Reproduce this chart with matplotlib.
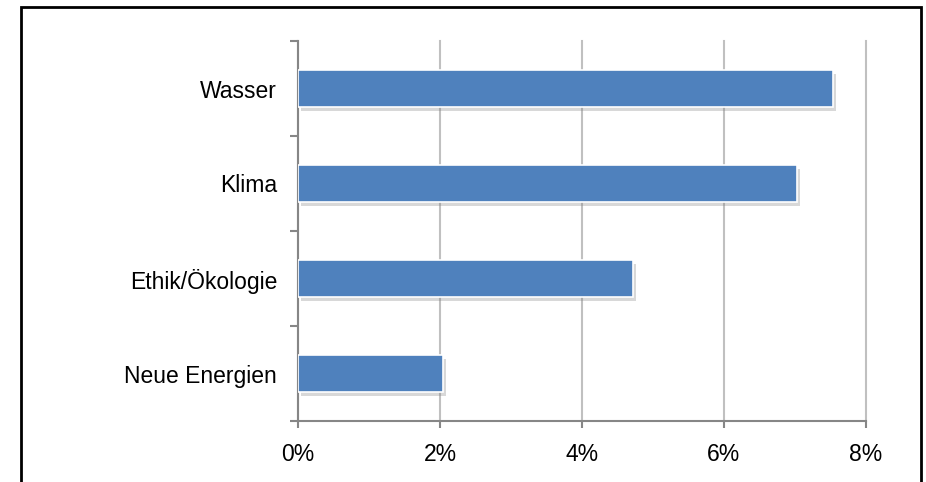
import matplotlib.pyplot as plt
import matplotlib.patheffects as pe
from matplotlib.patches import Rectangle
from matplotlib.ticker import FuncFormatter

plt.rcParams['font.family'] = ['Liberation Sans', 'DejaVu Sans']

# data (bottom to top)
categories = ["Neue Energien", "Ethik/Ökologie", "Klima", "Wasser"]
values = [2.04, 4.72, 7.03, 7.54]
xticks = [0, 2, 4, 6, 8]

fig = plt.figure(figsize=(9.26, 4.82), dpi=100)
ax = fig.add_axes([298/926, 1-421/482, (866-298)/926, (421-41)/482])

pos = list(range(len(categories)))
bars = ax.barh(pos, values, height=0.39, color="#4F81BD", edgecolor="white", linewidth=1.2, zorder=3)
for b in bars:
    b.set_path_effects([pe.SimplePatchShadow(offset=(2, -3), shadow_rgbFace="gray", alpha=0.3), pe.Normal()])

ax.set_xlim(0, 8)
ax.set_ylim(-0.5, len(categories) - 0.5)
ax.set_xticks(xticks)
ax.xaxis.set_major_formatter(FuncFormatter(lambda v, p: f"{v:.0f}%"))
ax.set_yticks(pos)
ax.set_yticklabels(categories)
ax.set_yticks([i - 0.5 for i in range(len(categories) + 1)], minor=True)

ax.grid(axis="x", color="#C0C0C0", linewidth=1.5, zorder=0)
for gl in ax.get_xgridlines():
    gl.set_clip_on(False)
ax.set_axisbelow(True)
for s in ["top", "right"]:
    ax.spines[s].set_visible(False)
for s in ["left", "bottom"]:
    ax.spines[s].set_color("#868686")
    ax.spines[s].set_linewidth(1.5)

ax.tick_params(axis="y", which="major", length=0, pad=15, labelsize=16.5)
ax.tick_params(axis="y", which="minor", length=6, width=1.5, color="#868686")
ax.tick_params(axis="x", which="major", length=5, width=1.5, color="#868686", pad=11, labelsize=16.5)

# outer frame
fig.patches.append(Rectangle((21/926, -0.05), 900/926, 1.05 - 7/482, transform=fig.transFigure,
                             fill=False, edgecolor="black", linewidth=2, clip_on=False))

fig.savefig("out.png", dpi=100)
